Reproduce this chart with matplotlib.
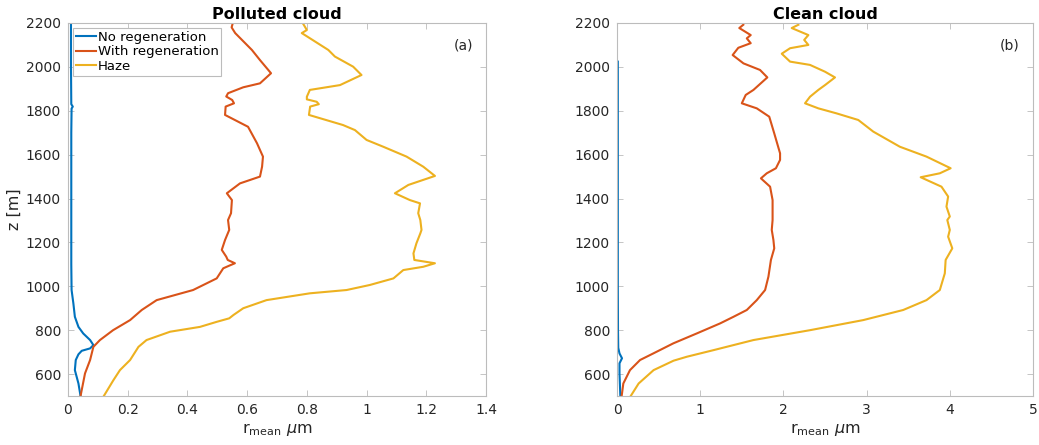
import matplotlib
matplotlib.use("Agg")
import matplotlib.pyplot as plt

# ---------------- data ----------------
# Polluted cloud
pol_noreg_z = [500, 557, 618, 664, 690, 706, 717, 732, 755, 785, 815, 861, 922, 983, 1100, 1300, 1500, 1700, 1810, 1819, 1830, 2000, 2200]
pol_noreg_r = [0.042, 0.035, 0.023, 0.026, 0.035, 0.046, 0.074, 0.085, 0.074, 0.051, 0.035, 0.023, 0.018, 0.012, 0.011, 0.011, 0.011, 0.011, 0.012, 0.016, 0.011, 0.010, 0.010]

pol_reg_z = [500, 603, 664, 724, 755, 800, 846, 892, 937, 983, 1036, 1082, 1094, 1105, 1120, 1135, 1166, 1211, 1257, 1302, 1333, 1393, 1424, 1469, 1500, 1545, 1591, 1652, 1727, 1781, 1819, 1834, 1849, 1865, 1880, 1907, 1925, 1971, 2031, 2077, 2154, 2180, 2200]
pol_reg_r = [0.042, 0.057, 0.074, 0.085, 0.107, 0.151, 0.208, 0.247, 0.297, 0.419, 0.498, 0.520, 0.540, 0.559, 0.535, 0.530, 0.515, 0.526, 0.540, 0.536, 0.546, 0.549, 0.532, 0.576, 0.643, 0.650, 0.653, 0.633, 0.603, 0.526, 0.528, 0.556, 0.550, 0.530, 0.536, 0.587, 0.643, 0.680, 0.643, 0.616, 0.560, 0.548, 0.552]

pol_haze_z = [500, 572, 618, 664, 724, 755, 793, 815, 838, 854, 869, 900, 937, 968, 983, 1006, 1036, 1074, 1089, 1105, 1120, 1150, 1196, 1241, 1257, 1302, 1333, 1378, 1393, 1424, 1462, 1503, 1545, 1591, 1636, 1667, 1712, 1735, 1781, 1819, 1830, 1841, 1852, 1864, 1895, 1917, 1963, 2001, 2047, 2077, 2154, 2168, 2200]
pol_haze_r = [0.120, 0.152, 0.174, 0.208, 0.236, 0.263, 0.342, 0.442, 0.498, 0.540, 0.554, 0.587, 0.665, 0.810, 0.933, 1.011, 1.090, 1.123, 1.190, 1.229, 1.160, 1.157, 1.167, 1.180, 1.184, 1.180, 1.173, 1.179, 1.145, 1.095, 1.140, 1.229, 1.190, 1.134, 1.056, 1.000, 0.961, 0.921, 0.807, 0.811, 0.840, 0.833, 0.800, 0.800, 0.810, 0.911, 0.983, 0.955, 0.894, 0.872, 0.783, 0.800, 0.786]

# Clean cloud
cln_noreg_z = [500, 603, 649, 672, 694, 720, 800, 1000, 1200, 1400, 1600, 1800, 2000, 2024]
cln_noreg_r = [0.040, 0.030, 0.030, 0.060, 0.030, 0.015, 0.012, 0.010, 0.010, 0.010, 0.010, 0.010, 0.010, 0.010]

cln_reg_z = [500, 557, 618, 664, 694, 740, 785, 831, 861, 892, 937, 983, 1044, 1120, 1173, 1211, 1257, 1302, 1393, 1454, 1492, 1515, 1538, 1576, 1606, 1697, 1773, 1811, 1834, 1872, 1895, 1952, 1986, 2016, 2054, 2087, 2108, 2130, 2145, 2177, 2192]
cln_reg_r = [0.056, 0.076, 0.156, 0.277, 0.436, 0.677, 0.958, 1.240, 1.400, 1.560, 1.680, 1.780, 1.820, 1.850, 1.890, 1.880, 1.860, 1.870, 1.870, 1.840, 1.730, 1.800, 1.910, 1.960, 1.960, 1.890, 1.830, 1.680, 1.500, 1.547, 1.640, 1.807, 1.719, 1.520, 1.390, 1.458, 1.607, 1.560, 1.607, 1.470, 1.518]

cln_haze_z = [500, 557, 618, 661, 679, 709, 755, 800, 846, 892, 937, 983, 1059, 1120, 1173, 1226, 1257, 1302, 1318, 1363, 1409, 1454, 1497, 1515, 1538, 1591, 1636, 1705, 1758, 1788, 1811, 1834, 1864, 1895, 1917, 1952, 1978, 2009, 2024, 2060, 2085, 2100, 2123, 2145, 2177, 2192]
cln_haze_r = [0.165, 0.260, 0.440, 0.680, 0.840, 1.160, 1.640, 2.320, 2.960, 3.440, 3.720, 3.880, 3.940, 3.950, 4.030, 3.980, 4.000, 3.970, 4.000, 3.960, 3.980, 3.900, 3.650, 3.880, 4.010, 3.720, 3.400, 3.080, 2.900, 2.640, 2.420, 2.260, 2.320, 2.420, 2.500, 2.620, 2.500, 2.320, 2.080, 1.980, 2.080, 2.300, 2.250, 2.300, 2.100, 2.180]

series_labels = ["No regeneration", "With regeneration", "Haze"]
titles = ["Polluted cloud", "Clean cloud"]
panel_tags = ["(a)", "(b)"]
x_ticks_left = [0, 0.2, 0.4, 0.6, 0.8, 1, 1.2, 1.4]
x_ticks_right = [0, 1, 2, 3, 4, 5]
y_ticks = [600, 800, 1000, 1200, 1400, 1600, 1800, 2000, 2200]

# ---------------- plot ----------------
plt.rcParams['font.family'] = ['DejaVu Sans']
colors = ["#0072BD", "#D95319", "#EDB120"]
W, H = 1039, 445
fig = plt.figure(figsize=(W / 100, H / 100), dpi=100)

ax1 = fig.add_axes([68 / W, 1 - 396 / H, (486 - 68) / W, (396 - 23) / H])
ax2 = fig.add_axes([617 / W, 1 - 396 / H, (1033 - 617) / W, (396 - 23) / H])

data = [
    [(pol_noreg_r, pol_noreg_z), (pol_reg_r, pol_reg_z), (pol_haze_r, pol_haze_z)],
    [(cln_noreg_r, cln_noreg_z), (cln_reg_r, cln_reg_z), (cln_haze_r, cln_haze_z)],
]
xlims = [(0, 1.4), (0, 5)]
xticks = [x_ticks_left, x_ticks_right]

for i, ax in enumerate([ax1, ax2]):
    for j, (r, z) in enumerate(data[i]):
        ax.plot(r, z, color=colors[j], lw=1.5, label=series_labels[j])
    ax.set_xlim(*xlims[i])
    ax.set_ylim(500, 2200)
    ax.set_xticks(xticks[i])
    ax.set_xticklabels([f"{t:g}" for t in xticks[i]])
    ax.set_yticks(y_ticks)
    ax.tick_params(direction='in', top=True, right=True, length=4, width=0.6,
                   colors='#bcbcbc', labelcolor='#262626', labelsize=10, pad=5)
    for s in ax.spines.values():
        s.set_color('#bcbcbc')
        s.set_linewidth(0.8)
    ax.set_title(titles[i], fontsize=11.5, fontweight='bold', pad=3)
    ax.set_xlabel(r"r$_{\rm mean}$ $\mu$m", fontsize=11.5, color='#262626', labelpad=3)
    ax.text(0.945, 0.94, panel_tags[i], transform=ax.transAxes, ha='center', va='center',
            fontsize=10, color='#262626')

ax1.set_ylabel("z [m]", fontsize=11.5, color='#262626', labelpad=3)
leg = ax1.legend(loc='upper left', fontsize=9.5, frameon=True, fancybox=False,
                 borderpad=0.2, handlelength=1.5, handletextpad=0.15, labelspacing=0.12,
                 borderaxespad=0.4, edgecolor='#bcbcbc', framealpha=1)
leg.get_frame().set_linewidth(0.8)

fig.savefig("out.png", dpi=100)
